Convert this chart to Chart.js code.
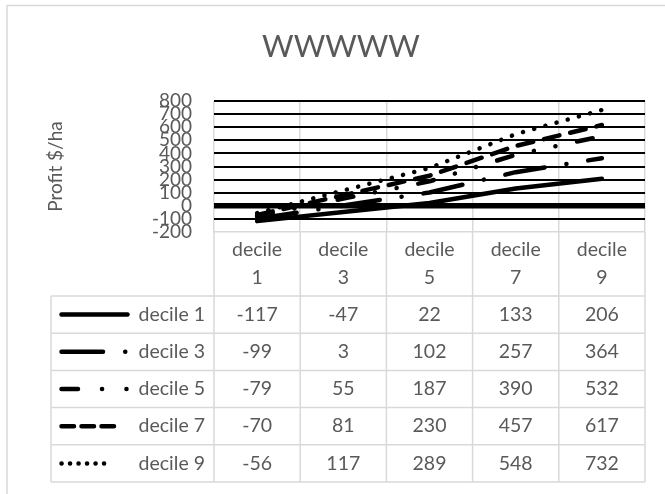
<!DOCTYPE html>
<html>
<head>
<meta charset="utf-8">
<script src="https://cdn.jsdelivr.net/npm/chart.js@4.4.1/dist/chart.umd.min.js"></script>
<style>
  html, body { margin: 0; padding: 0; background: #ffffff; }
  #wrap { position: relative; width: 665px; height: 494px; }
</style>
</head>
<body>
<div id="wrap"><canvas id="chart" width="665" height="494"></canvas></div>
<script>
// Categories along the x axis (also the data table column headers)
const categories = ['decile 1', 'decile 3', 'decile 5', 'decile 7', 'decile 9'];
// Series names (data table row headers)
const seriesNames = ['decile 1', 'decile 3', 'decile 5', 'decile 7', 'decile 9'];
// Profit values, $/ha
const decile1 = [-117, -47, 22, 133, 206];
const decile3 = [-99, 3, 102, 257, 364];
const decile5 = [-79, 55, 187, 390, 532];
const decile7 = [-70, 81, 230, 457, 617];
const decile9 = [-56, 117, 289, 548, 732];
// Value axis range and step
const yMin = -200;
const yMax = 800;
const yStep = 100;

const seriesValues = [decile1, decile3, decile5, decile7, decile9];

// Line styles: dash pattern on the plot and in the table's legend key
const LINE_W = 4.5;
const plotDash = [
  [],
  [40, 22, 0.1, 22],
  [16, 22, 0.1, 22, 0.1, 22],
  [16, 11],
  [0.1, 11.5]
];
const keyDash = [
  [],
  [41.5, 22.2, 0.1, 30],
  [16.5, 24, 0.1, 24.3, 0.1, 30],
  [12.5, 7.5],
  [0.1, 8.4]
];
const keyEnd = [127.5, 127.5, 127.5, 115, 112];

const FONT = 'Lato, "Open Sans", sans-serif';
const TEXT = '#595959';
const RULE = '#d9d9d9';

// Outer frame of the chart area
const framePlugin = {
  id: 'frame',
  beforeDraw(chart) {
    const ctx = chart.ctx;
    ctx.save();
    ctx.fillStyle = '#ffffff';
    ctx.fillRect(0, 0, chart.width, chart.height);
    ctx.strokeStyle = RULE;
    ctx.lineWidth = 1.5;
    ctx.beginPath();
    ctx.moveTo(7, chart.height);
    ctx.lineTo(7, 5.5);
    ctx.lineTo(chart.width, 5.5);
    ctx.stroke();
    ctx.restore();
  }
};

// Data table drawn under the plot, columns aligned with the category scale
const tablePlugin = {
  id: 'dataTable',
  afterDraw(chart) {
    const ctx = chart.ctx;
    const area = chart.chartArea;
    const xs = chart.scales.x;
    const n = categories.length;
    const colW = (area.right - area.left) / n;
    const headTop = area.bottom;
    const headH = 64;
    const rowH = 37.2;
    const bodyTop = headTop + headH;
    const bottom = bodyTop + rowH * seriesNames.length;
    const keyLeft = 51;

    ctx.save();
    ctx.strokeStyle = RULE;
    ctx.lineWidth = 1.5;
    ctx.beginPath();
    // column rules
    for (let i = 0; i <= n; i++) {
      const x = xs.getPixelForValue(i) - colW / 2;
      ctx.moveTo(x, headTop);
      ctx.lineTo(x, bottom);
    }
    ctx.moveTo(keyLeft, bodyTop);
    ctx.lineTo(keyLeft, bottom);
    // row rules
    for (let r = 0; r <= seriesNames.length; r++) {
      const y = bodyTop + r * rowH;
      ctx.moveTo(keyLeft, y);
      ctx.lineTo(area.right, y);
    }
    ctx.stroke();

    ctx.fillStyle = TEXT;
    ctx.font = '19.5px ' + FONT;
    ctx.textAlign = 'center';
    ctx.textBaseline = 'middle';
    // column headers, wrapped onto two lines
    categories.forEach((c, i) => {
      const x = xs.getPixelForValue(i);
      const parts = c.split(' ');
      ctx.fillText(parts[0], x, headTop + 18);
      ctx.fillText(parts[1], x, headTop + 46);
    });
    // body rows
    seriesNames.forEach((name, r) => {
      const yc = bodyTop + rowH * (r + 0.5);
      ctx.textAlign = 'center';
      seriesValues[r].forEach((v, i) => {
        ctx.fillText(String(v), xs.getPixelForValue(i), yc);
      });
      ctx.textAlign = 'right';
      ctx.fillText(name, area.left - 9, yc);
      // legend key
      ctx.save();
      ctx.strokeStyle = '#000000';
      ctx.lineWidth = LINE_W;
      ctx.lineCap = 'round';
      ctx.setLineDash(keyDash[r]);
      ctx.beginPath();
      ctx.moveTo(keyLeft + 10.5, yc);
      ctx.lineTo(keyEnd[r], yc);
      ctx.stroke();
      ctx.restore();
    });
    ctx.restore();
  }
};

const datasets = seriesNames.map((name, i) => ({
  label: name,
  data: seriesValues[i],
  borderColor: '#000000',
  backgroundColor: '#000000',
  borderWidth: LINE_W,
  borderDash: plotDash[i],
  borderCapStyle: 'round',
  borderJoinStyle: 'round',
  pointRadius: 0,
  pointHoverRadius: 0,
  tension: 0,
  fill: false
}));

new Chart(document.getElementById('chart'), {
  type: 'line',
  data: { labels: categories, datasets },
  plugins: [framePlugin, tablePlugin],
  options: {
    responsive: false,
    animation: false,
    devicePixelRatio: 1,
    layout: { padding: { left: 37, right: 20, top: 0, bottom: 262 } },
    plugins: {
      legend: { display: false },
      tooltip: { enabled: false },
      title: {
        display: true,
        text: 'WWWWW',
        color: TEXT,
        font: { family: FONT, size: 30.5, weight: 'normal', lineHeight: 1.2 },
        padding: { top: 29, bottom: 35.5 }
      }
    },
    scales: {
      x: {
        type: 'category',
        offset: true,
        ticks: { display: false },
        border: { display: false },
        grid: { display: true, offset: true, color: RULE, lineWidth: 1.5, drawTicks: false },
        afterFit(scale) { scale.height = 0; }
      },
      y: {
        min: yMin,
        max: yMax,
        border: { display: false },
        ticks: {
          stepSize: yStep,
          autoSkip: false,
          padding: 22,
          color: TEXT,
          font: { family: FONT, size: 19 }
        },
        grid: {
          drawTicks: false,
          color: c => (c.tick && c.tick.value === yMin ? RULE : '#000000'),
          lineWidth: c => (c.tick && c.tick.value === 0 ? 5.5 : (c.tick && c.tick.value === yMin ? 1.5 : 2))
        },
        title: {
          display: true,
          text: 'Profit $/ha',
          color: TEXT,
          font: { family: FONT, size: 19, weight: 'normal', lineHeight: 1.2 },
          padding: { top: 7, bottom: 0 }
        },
        afterFit(scale) { scale.width = 177; }
      }
    }
  }
});
</script>
</body>
</html>
